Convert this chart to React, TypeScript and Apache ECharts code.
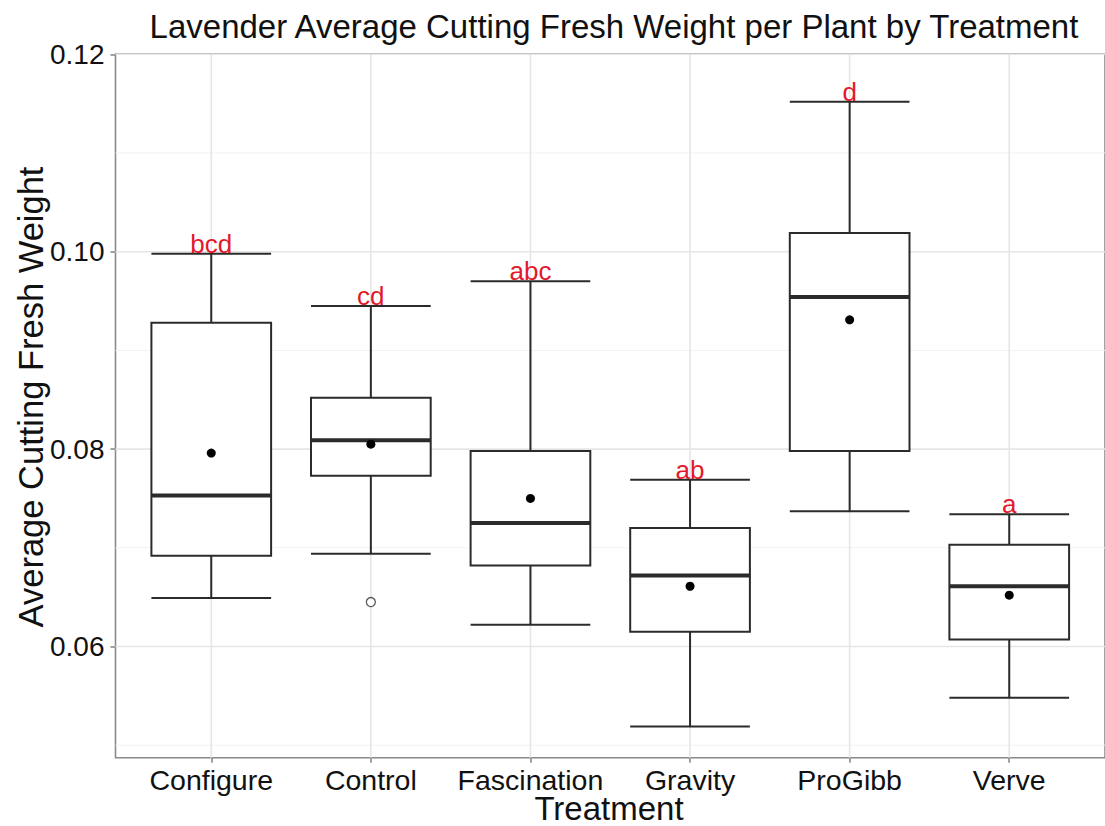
import React, { useEffect, useRef } from "react";
import * as echarts from "echarts";

const categories = ["Configure", "Control", "Fascination", "Gravity", "ProGibb", "Verve"];
const lowerWhisker = [0.0649, 0.0694, 0.0622, 0.0519, 0.0737, 0.0548];
const q1 = [0.0692, 0.0773, 0.0682, 0.0615, 0.0798, 0.0607];
const median = [0.0753, 0.0809, 0.0725, 0.0672, 0.0954, 0.0661];
const q3 = [0.0928, 0.0852, 0.0798, 0.0720, 0.1019, 0.0703];
const upperWhisker = [0.0998, 0.0945, 0.0970, 0.0769, 0.1152, 0.0734];
const means = [0.0796, 0.0805, 0.0750, 0.0661, 0.0931, 0.0652];
const letters = ["bcd", "cd", "abc", "ab", "d", "a"];
const outlierCategory = ["Control"];
const outlierValue = [0.0645];
const yTicks = [0.06, 0.08, 0.1, 0.12];
const yMinorTicks = [0.05, 0.07, 0.09, 0.11];

const FONT = "'Liberation Sans', Arial, Helvetica, sans-serif";
const AXIS_GRAY = "#8a8a8a";
const BOX_STROKE = "#2b2b2b";

export default function App() {
  const ref = useRef<HTMLDivElement>(null);

  useEffect(() => {
    if (!ref.current) return;
    const chart = echarts.init(ref.current, null, { renderer: "svg" });
    const xPos = categories.map((_, i) => i + 1);

    const hLine = (color: string, width: number) => (params: any, api: any) => {
      const cs = params.coordSys;
      const y = api.coord([api.value(0), api.value(1)])[1];
      return {
        type: "line",
        shape: { x1: cs.x, y1: y, x2: cs.x + cs.width, y2: y },
        style: { stroke: color, lineWidth: width },
        silent: true,
      };
    };

    const option: any = {
      animation: false,
      backgroundColor: "#ffffff",
      grid: {
        left: 115.5,
        top: 54,
        right: -6.4,
        bottom: 68.3,
        show: true,
        borderColor: AXIS_GRAY,
        borderWidth: 1.6,
        backgroundColor: "transparent",
      },
      xAxis: {
        type: "value",
        min: 0.4,
        max: 6.6,
        axisLine: { show: false },
        splitLine: { show: false },
        axisTick: {
          show: true,
          customValues: xPos,
          length: 5,
          lineStyle: { color: AXIS_GRAY, width: 1.6 },
        },
        axisLabel: {
          customValues: xPos,
          formatter: (v: number) => categories[Math.round(v) - 1] ?? "",
          color: "#111111",
          fontSize: 28.5,
          fontFamily: FONT,
          margin: 8,
        },
      },
      yAxis: {
        type: "value",
        min: 0.04873,
        max: 0.12003,
        axisLine: { show: false },
        splitLine: { show: false },
        axisTick: {
          show: true,
          customValues: yTicks,
          length: 5,
          lineStyle: { color: AXIS_GRAY, width: 1.6 },
        },
        axisLabel: {
          customValues: yTicks,
          formatter: (v: number) => v.toFixed(2),
          color: "#111111",
          fontSize: 28,
          fontFamily: FONT,
          margin: 11,
        },
      },
      graphic: [
        {
          type: "text",
          x: 614,
          y: 26,
          style: {
            text: "Lavender Average Cutting Fresh Weight per Plant by Treatment",
            font: `33px ${FONT}`,
            fill: "#111",
            textAlign: "center",
            textVerticalAlign: "middle",
          },
        },
        {
          type: "text",
          x: 609,
          y: 808,
          style: {
            text: "Treatment",
            font: `33px ${FONT}`,
            fill: "#111",
            textAlign: "center",
            textVerticalAlign: "middle",
          },
        },
        {
          type: "text",
          x: 31,
          y: 397,
          rotation: Math.PI / 2,
          style: {
            text: "Average Cutting Fresh Weight",
            font: `34.5px ${FONT}`,
            fill: "#111",
            textAlign: "center",
            textVerticalAlign: "middle",
          },
        },
      ],
      series: [
        {
          type: "custom",
          z: 1,
          silent: true,
          data: yMinorTicks.map((v) => [1, v]),
          encode: { x: 0, y: 1 },
          renderItem: hLine("#f2f2f2", 1),
        },
        {
          type: "custom",
          z: 1,
          silent: true,
          data: yTicks.map((v) => [1, v]),
          encode: { x: 0, y: 1 },
          renderItem: hLine("#e6e6e6", 1.6),
        },
        {
          type: "custom",
          z: 1,
          silent: true,
          data: xPos.map((x) => [x, 0.08]),
          encode: { x: 0, y: 1 },
          renderItem: (params: any, api: any) => {
            const cs = params.coordSys;
            const x = api.coord([api.value(0), api.value(1)])[0];
            return {
              type: "line",
              shape: { x1: x, y1: cs.y, x2: x, y2: cs.y + cs.height },
              style: { stroke: "#e6e6e6", lineWidth: 1.6 },
              silent: true,
            };
          },
        },
        {
          type: "custom",
          z: 3,
          data: categories.map((_, i) => [
            i + 1,
            lowerWhisker[i],
            q1[i],
            median[i],
            q3[i],
            upperWhisker[i],
            means[i],
          ]),
          encode: { x: 0, y: [1, 2, 3, 4, 5, 6] },
          renderItem: (params: any, api: any) => {
            const x = api.value(0);
            const lo = api.coord([x, api.value(1)]);
            const b1 = api.coord([x, api.value(2)]);
            const md = api.coord([x, api.value(3)]);
            const b3 = api.coord([x, api.value(4)]);
            const hi = api.coord([x, api.value(5)]);
            const mn = api.coord([x, api.value(6)]);
            const w = api.size([1, 0])[0] * 0.75;
            const cx = lo[0];
            const lw = 2;
            return {
              type: "group",
              children: [
                { type: "line", shape: { x1: cx - w / 2, y1: hi[1], x2: cx + w / 2, y2: hi[1] }, style: { stroke: BOX_STROKE, lineWidth: lw } },
                { type: "line", shape: { x1: cx - w / 2, y1: lo[1], x2: cx + w / 2, y2: lo[1] }, style: { stroke: BOX_STROKE, lineWidth: lw } },
                { type: "line", shape: { x1: cx, y1: hi[1], x2: cx, y2: b3[1] }, style: { stroke: BOX_STROKE, lineWidth: lw } },
                { type: "line", shape: { x1: cx, y1: lo[1], x2: cx, y2: b1[1] }, style: { stroke: BOX_STROKE, lineWidth: lw } },
                {
                  type: "rect",
                  shape: { x: cx - w / 2, y: b3[1], width: w, height: b1[1] - b3[1] },
                  style: { fill: "#ffffff", stroke: BOX_STROKE, lineWidth: lw },
                },
                { type: "line", shape: { x1: cx - w / 2, y1: md[1], x2: cx + w / 2, y2: md[1] }, style: { stroke: BOX_STROKE, lineWidth: 4 } },
                { type: "circle", shape: { cx: cx, cy: mn[1], r: 4.5 }, style: { fill: "#000000" } },
                {
                  type: "text",
                  style: {
                    text: letters[params.dataIndex],
                    x: cx,
                    y: hi[1] - 10,
                    fill: "#e3192b",
                    fontSize: 26,
                    fontFamily: FONT,
                    align: "center",
                    verticalAlign: "middle",
                  },
                },
              ],
            };
          },
        },
        {
          type: "scatter",
          z: 4,
          symbol: "circle",
          symbolSize: 9,
          itemStyle: { color: "#ffffff", borderColor: "#333333", borderWidth: 1.3 },
          data: outlierCategory.map((c, k) => [categories.indexOf(c) + 1, outlierValue[k]]),
        },
      ],
    };

    chart.setOption(option);
    return () => chart.dispose();
  }, []);

  return (
    <div
      ref={ref}
      style={{ position: "fixed", left: 0, top: 0, width: 1105, height: 826, background: "#fff" }}
    />
  );
}
